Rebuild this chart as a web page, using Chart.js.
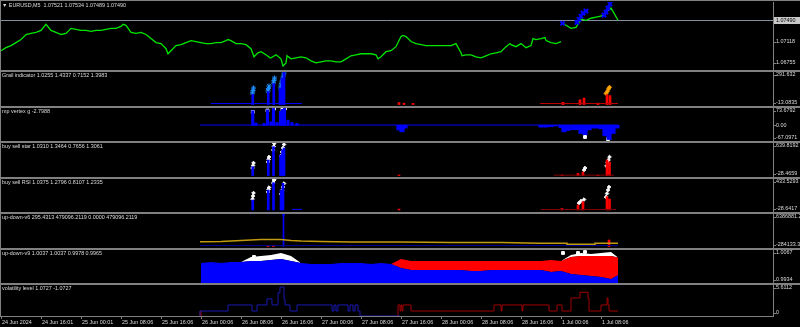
<!DOCTYPE html>
<html>
<head>
<meta charset="utf-8">
<title>EURUSD,M5</title>
<script src="https://cdn.jsdelivr.net/npm/chart.js@4.4.1/dist/chart.umd.min.js"></script>
<style>
  html, body { margin: 0; padding: 0; background: #000; }
  #chart { position: relative; width: 800px; height: 327px; overflow: hidden; background: #000; }
  #chart canvas { position: absolute; left: 0; }
  .sep { position: absolute; left: 0; width: 800px; height: 2px; background: #808080; }
</style>
</head>
<body>
<div id="chart">
  <canvas id="pMain" width="800" height="68" style="top:2px"></canvas>
  <canvas id="pGrail" width="800" height="34" style="top:72px"></canvas>
  <canvas id="pVertex" width="800" height="33" style="top:108px"></canvas>
  <canvas id="pStar" width="800" height="34" style="top:143px"></canvas>
  <canvas id="pRsi" width="800" height="33" style="top:179px"></canvas>
  <canvas id="pV6" width="800" height="34" style="top:214px"></canvas>
  <canvas id="pV9" width="800" height="33" style="top:250px"></canvas>
  <canvas id="pVol" width="800" height="42" style="top:285px"></canvas>
  <div class="sep" style="top:0;height:1px"></div>
  <div class="sep" style="top:70px"></div>
  <div class="sep" style="top:106px"></div>
  <div class="sep" style="top:141px"></div>
  <div class="sep" style="top:177px"></div>
  <div class="sep" style="top:212px"></div>
  <div class="sep" style="top:248px"></div>
  <div class="sep" style="top:283px"></div>
  <div style="position:absolute;left:0;top:0;width:1px;height:317px;background:#808080"></div>
</div>
<script>
// ---------- time axis (hours since 24 Jun 08:xx, weekend skipped) ----------
const timeTickHours = [0, 8, 16, 24, 32, 40, 48, 56, 64, 72, 80, 88, 96, 104, 112, 120];
const timeLabels = ['24 Jun 2024', '24 Jun 16:01', '25 Jun 00:01', '25 Jun 08:06', '25 Jun 16:06',
  '26 Jun 00:06', '26 Jun 08:06', '26 Jun 16:06', '27 Jun 00:06', '27 Jun 08:06', '27 Jun 16:06',
  '28 Jun 00:06', '28 Jun 08:06', '28 Jun 16:06', '1 Jul 00:06', '1 Jul 08:06'];

// ---------- EURUSD M5 close, one sample per hour (Mon 24 Jun .. Fri 28 Jun) ----------
const priceFri = [1.06965, 1.07018, 1.07053, 1.07105, 1.07158, 1.07245, 1.07263, 1.0728, 1.07315, 1.0742,
  1.07315, 1.0728, 1.07245, 1.07263, 1.0735, 1.07333, 1.07315, 1.07315, 1.07298, 1.07315,
  1.07315, 1.07333, 1.0735, 1.0735, 1.07385, 1.07403, 1.0728, 1.07263, 1.0728, 1.07245,
  1.07175, 1.07105, 1.07088, 1.07, 1.06965, 1.07053, 1.0707, 1.07105, 1.0714, 1.07123,
  1.07105, 1.07088, 1.07088, 1.07105, 1.07105, 1.0714, 1.0714, 1.07088, 1.07088, 1.0707,
  1.07, 1.06895, 1.06948, 1.06895, 1.06843, 1.06895, 1.06825, 1.06755, 1.06825, 1.06843,
  1.0686, 1.06843, 1.0679, 1.06755, 1.06773, 1.0679, 1.0679, 1.06773, 1.06773, 1.06825,
  1.06878, 1.06895, 1.06913, 1.06913, 1.06913, 1.06895, 1.0686, 1.06948, 1.06965, 1.07035,
  1.0721, 1.0721, 1.07123, 1.07088, 1.0707, 1.07053, 1.07053, 1.07053, 1.07053, 1.07053,
  1.07053, 1.07088, 1.0693, 1.06895, 1.06895, 1.0686, 1.06843, 1.06878, 1.06913, 1.0693,
  1.06948, 1.07035, 1.0707, 1.07035, 1.07088, 1.07018, 1.07053, 1.07158, 1.07175, 1.0714,
  1.07105, 1.07088, 1.07123];
// intra-hour swings that show in the line
const priceExtraHours = [24.4, 33.4, 45.4, 50.6, 51.4, 53.8, 56.4, 57.2, 75.4, 80.4, 92.2, 100.8, 101.8, 106.4, 108.8];
const priceExtra = [1.0742, 1.06913, 1.07158, 1.0686, 1.0693, 1.06843, 1.06703, 1.06878, 1.06825, 1.07228,
  1.06878, 1.07018, 1.07088, 1.07175, 1.07193];
// Monday 1 Jul, after the weekend gap
const priceMonHours = [112.4, 113, 114, 115, 116, 117, 118, 119, 120, 121, 122, 122.6, 123.4];
const priceMon = [1.07438, 1.07403, 1.0735, 1.07368, 1.07508, 1.0749, 1.07525, 1.07543, 1.0756, 1.0763, 1.077, 1.07613, 1.0749];
const signalHours = [112.3, 115.2, 115.6, 116.0, 116.4, 117.0, 120.6, 121.0, 121.4, 121.8];
const signalPrices = [1.07438, 1.07455, 1.07508, 1.0756, 1.07613, 1.07648, 1.07578, 1.0763, 1.077, 1.0777];

// ---------- Grail indicator ----------
const grailBaseHours = [42, 60.2];
const grailBaseValues = [9, 9];
const grailBuyHours = [50.35, 53.45, 54.55, 55.8, 56.2, 56.6];
const grailBuyValues = [90, 117, 188, 148, 237, 291];
const grailStarHours = [50.3, 50.4, 50.5, 53.4, 53.5, 53.6, 54.5, 54.6, 54.7, 55.9, 56.0, 56.15, 56.3, 56.45, 56.6];
const grailStarValues = [103, 125, 148, 121, 143, 166, 193, 215, 237, 148, 175, 202, 229, 255, 282];
const grailSellBaseHours = [107.8, 123.4];
const grailSellBaseValues = [9, 9];
const grailSellHours = [79.6, 80.6, 82.4, 112.4, 115.8, 116.6, 119.4, 121.2, 121.8];
const grailSellValues = [18, 12, 10, 20, 43, 58, 13, 88, 80];
const grailFlagHours = [121.0, 121.3, 121.5, 121.7];
const grailFlagValues = [100, 120, 140, 155];

// ---------- mp vertex g ----------
const vertexBaseHours = [39.8, 123.4];
const vertexBaseValues = [1, 1];
const vertexUpHours = [50.35, 51.0, 52.6, 53.3, 54.0, 54.5, 55.2, 55.9, 56.3, 56.7, 57.4, 58.2, 59.2];
const vertexUpValues = [62, 10, 8, 66, 15, 72, 12, 60, 68, 73, 22, 12, 8];
const vertexDownHours = [79.6, 80.2, 80.8, 108, 109, 110, 111, 112, 112.6, 113.4, 114.4, 115.2, 116.0, 116.8,
  117.6, 118.4, 119.2, 120.0, 120.8, 121.6, 122.4, 123.2];
const vertexDownValues = [-20, -28, -12, -8, -8, -6, -3, -10, -28, -22, -19, -19, -35, -40,
  -20, -12, -12, -15, -45, -61, -35, -12];
const vertexMarkHours = [50.35, 53.3, 54.6, 56.3, 56.8, 116.8, 121.4];
const vertexMarkValues = [57, 63, 71, 68, 72, -50, -59];

// ---------- buy sell star ----------
const starBuyHours = [50.35, 53.45, 54.5, 55.9, 56.3, 56.6];
const starBuyValues = [174, 306, 567, 404, 502, 541];
const starBuyMarkHours = [50.3, 50.4, 50.5, 53.4, 53.5, 53.6, 54.45, 54.55, 54.65, 56.0, 56.2, 56.4, 56.6];
const starBuyMarkValues = [148, 198, 247, 266, 315, 365, 502, 571, 630, 384, 463, 541, 610];
const starSellHours = [79.6, 112.2, 115.4, 116.4, 119.4, 121.2, 121.7];
const starSellValues = [12, 10, 44, 70, 8, 306, 266];
const starSellMarkHours = [116.6, 116.8, 121.1, 121.3, 121.5, 121.7];
const starSellMarkValues = [109, 148, 188, 247, 306, 365];
const starSellBaseHours = [110.5, 122.6];
const starSellBaseValues = [8, 8];

// ---------- buy sell RSI ----------
const rsiBuyHours = [50.35, 53.45, 54.5, 56.0, 56.4];
const rsiBuyValues = [139, 279, 382, 279, 373];
const rsiBuyMarkHours = [50.3, 50.4, 50.5, 53.4, 53.5, 53.6, 54.45, 54.55, 54.65, 56.0, 56.2, 56.4, 56.6];
const rsiBuyMarkValues = [153, 195, 237, 251, 286, 314, 377, 412, 425, 223, 272, 321, 370];
const rsiBuyBaseHours = [58.2, 60.2];
const rsiBuyBaseValues = [8, 8];
const rsiSellHours = [79.6, 112.2, 115.4, 116.4, 121.2, 121.7];
const rsiSellValues = [12, 20, 69, 116, 186, 153];
const rsiSellMarkHours = [115.6, 116.0, 116.6, 121.0, 121.2, 121.4, 121.6];
const rsiSellMarkValues = [97, 125, 146, 181, 230, 279, 321];
const rsiSellBaseHours = [108, 123];
const rsiSellBaseValues = [6, 6];

// ---------- up-down-v6 ----------
const v6Hours = [39.8, 44, 48, 52, 56, 58, 60, 64, 70, 80, 90, 100, 107.8, 113.2, 113.2, 118.8, 118.8, 123.4];
const v6Values = [952000, 991000, 1187000, 1384000, 1384000, 1187000, 1089000, 991000, 893000, 893000,
  795000, 795000, 638000, 638000, 442000, 442000, 638000, 638000];
const v6BaseHours = [39.8, 123.4];
const v6BaseValues = [200000, 200000];
const v6UpHours = [56.5];
const v6UpValues = [6386000];
const v6DownHours = [53.4, 54.5, 121.6];
const v6DownValues = [200000, 200000, 1285000];

// ---------- up-down-v9 (2-hour samples) ----------
const v9Hours = [40, 42, 44, 46, 48, 50, 52, 54, 56, 58, 60, 62, 64, 66, 68, 70, 72, 74, 76, 78,
  80, 82, 84, 86, 88, 90, 92, 94, 96, 98, 100, 102, 104, 106, 108, 110, 112, 114, 116, 118, 120, 122, 123.4];
const v9Blue = [1.00146, 1.00186, 1.00146, 1.00186, 1.00186, 1.00227, 1.00227, 1.00267, 1.00307, 1.00227,
  1.00146, 1.00106, 1.00106, 1.00106, 1.00146, 1.00146, 1.00146, 1.00106, 1.00146, 1.00106,
  0.99945, 0.99864, 0.99864, 0.99864, 0.99864, 0.99864, 0.99864, 0.99824, 0.99824, 0.99864,
  0.99864, 0.99864, 0.99864, 0.99864, 0.99864, 0.99784, 0.99824, 0.99703, 0.99663, 0.99622, 0.99582, 0.99501, 0.9965];
const v9Red = [1.00146, 1.00186, 1.00146, 1.00186, 1.00186, 1.00227, 1.00227, 1.00267, 1.00307, 1.00227,
  1.00146, 1.00106, 1.00106, 1.00106, 1.00146, 1.00146, 1.00146, 1.00106, 1.00146, 1.00106,
  1.00307, 1.00227, 1.00227, 1.00227, 1.00227, 1.00227, 1.00227, 1.00227, 1.00227, 1.00227,
  1.00227, 1.00227, 1.00227, 1.00227, 1.00227, 1.00267, 1.00227, 1.00388, 1.00428, 1.00428, 1.00428, 1.00428, 1.0037];
const v9White = [1.00146, 1.00186, 1.00146, 1.00186, 1.00186, 1.00388, 1.00428, 1.00469, 1.00549, 1.00428,
  1.00146, 1.00106, 1.00106, 1.00106, 1.00146, 1.00146, 1.00146, 1.00106, 1.00146, 1.00106,
  1.00307, 1.00227, 1.00227, 1.00227, 1.00227, 1.00227, 1.00227, 1.00227, 1.00227, 1.00227,
  1.00227, 1.00227, 1.00227, 1.00227, 1.00227, 1.00267, 1.00227, 1.00469, 1.00549, 1.00509, 1.00549, 1.00589, 1.0037];
const v9MarkHours = [50.6, 52.0, 112.4, 115.4, 116.8];
const v9MarkValues = [1.0039, 1.0033, 1.00549, 1.00549, 1.00589];

// ---------- volatility level ----------
const volBlueHours = [39.8, 45.4, 50.2, 51.2, 53.2, 54.2, 55.4, 55.8, 56.6, 56.8, 57.8, 59.2, 66.2, 66.6, 67.0, 67.4,
  69.4, 69.8, 70.4, 70.8, 71.4, 71.8, 73.6, 79.8];
const volBlueValues = [0, 0.9, 2.0, 0.9, 2.0, 3.1, 2.0, 4.2, 5.25, 3.1, 2.0, 0.9, 2.0, 0.9, 2.0, 0.9,
  2.0, 0.9, 2.0, 0.9, 2.0, 0.9, 0, 0];
const volRedHours = [39.8, 40.0, 40.2, 40.3, 79.4, 79.8, 80.0, 80.2, 80.4, 82.0, 98.6, 100.0, 100.2, 104.2, 104.4,
  109.6, 111.2, 112.2, 114.0, 115.8, 117.4, 117.6, 120.0, 121.2, 121.4, 121.6, 122.2, 123.4];
const volRedValues = [0, 0.9, 0, null, 0, 2.0, 0.9, 2.0, 0.9, 2.0, 0.9, 2.0, 0.9, 2.0, 0.9,
  2.0, 0.9, 2.0, 0.9, 3.26, 4.3, 3.26, 0.9, 2.0, 3.26, 2.0, 0.9, 0.9];

// ---------- style ----------
const TEXT = '#dcdcdc';
const GRID = '#808080';
const FAMILY = '"Liberation Sans", Arial, sans-serif';
const FONT_SIZE = 5.4;
const FONT_CSS = FONT_SIZE + 'px ' + FAMILY;
const X_MIN = -0.2, X_MAX = 154.4;

const pts = (hours, values) => values.map((v, i) => ({ x: hours[i], y: v }));
const bars = (data, color, width) => ({ type: 'bar', data, backgroundColor: color, barThickness: width, grouped: false, borderWidth: 0 });
const marks = (data, color, style, r, bw) => ({ type: 'scatter', data, pointStyle: style, pointRadius: r, borderColor: color, backgroundColor: color, borderWidth: bw || 1 });
const line = (data, color, w, extra) => Object.assign({ type: 'line', data, borderColor: color, borderWidth: w, pointRadius: 0, tension: 0, fill: false }, extra || {});

// pane caption and right-hand price labels, MetaTrader style
const paneText = {
  id: 'paneText',
  beforeDatasetsDraw(chart, args, o) {
    if (!o.bid) return;
    const { ctx, chartArea: a } = chart;
    const py = Math.round(chart.scales.y.getPixelForValue(parseFloat(o.bid))) + 0.5;
    ctx.save();
    ctx.strokeStyle = '#8090a0';
    ctx.lineWidth = 1;
    ctx.beginPath(); ctx.moveTo(a.left, py); ctx.lineTo(a.right, py); ctx.stroke();
    ctx.restore();
  },
  afterDraw(chart, args, o) {
    const { ctx, chartArea: a } = chart;
    const y = chart.scales.y;
    ctx.save();
    ctx.font = FONT_CSS;
    ctx.textBaseline = 'middle';
    ctx.textAlign = 'left';
    (o.levels || []).forEach(txt => {
      let py = y.getPixelForValue(parseFloat(txt));
      py = Math.min(Math.max(py, a.top + 3), a.bottom - 3);
      ctx.strokeStyle = GRID;
      ctx.lineWidth = 1;
      ctx.beginPath(); ctx.moveTo(a.right, Math.round(py) + 0.5); ctx.lineTo(a.right + 3, Math.round(py) + 0.5); ctx.stroke();
      if (txt === o.bid) {
        ctx.fillStyle = '#c8c8c8';
        ctx.fillRect(a.right + 1, Math.round(py) - 3, 26, 7);
        ctx.fillStyle = '#000';
      } else {
        ctx.fillStyle = TEXT;
      }
      ctx.fillText(txt, a.right + 3, py);
    });
    ctx.fillStyle = TEXT;
    ctx.fillText(o.title, a.left + 2, a.top + 3.5);
    ctx.restore();
  }
};

function makePane(id, datasets, yMin, yMax, text, showTime) {
  const x = { type: 'linear', min: X_MIN, max: X_MAX, offset: false, display: false };
  if (showTime) {
    Object.assign(x, {
      display: true,
      position: 'bottom',
      afterBuildTicks: s => { s.ticks = timeTickHours.map(v => ({ value: v })); },
      afterFit: s => { s.height = 11; },
      ticks: {
        autoSkip: false, maxRotation: 0, minRotation: 0, align: 'start', labelOffset: 1, padding: 0,
        color: TEXT, font: { family: FAMILY, size: FONT_SIZE },
        callback: (v, i) => timeLabels[i]
      },
      grid: { display: true, drawOnChartArea: false, drawTicks: true, tickLength: 3, color: GRID, offset: false },
      border: { display: true, color: GRID }
    });
  }
  return new Chart(document.getElementById(id), {
    type: 'line',
    data: { datasets },
    options: {
      responsive: false, animation: false, events: [],
      layout: { padding: 0, autoPadding: false },
      plugins: { legend: { display: false }, tooltip: { enabled: false }, paneText: text },
      scales: {
        x,
        y: {
          position: 'right', min: yMin, max: yMax,
          ticks: { display: false }, grid: { display: false },
          border: { display: true, color: GRID },
          afterFit: s => { s.width = 27; }
        }
      }
    },
    plugins: [paneText]
  });
}

// main price window
const pricePoints = priceFri.map((v, i) => ({ x: i, y: v }))
  .concat(pts(priceExtraHours, priceExtra))
  .sort((a, b) => a.x - b.x)
  .concat([{ x: 112.2, y: null }])
  .concat(pts(priceMonHours, priceMon));
makePane('pMain', [
  marks(pts(signalHours, signalPrices), '#0000ff', 'crossRot', 3, 2),
  line(pricePoints, '#00e600', 1.3)
], 1.06633, 1.07805, {
  title: '\u25BC EURUSD,M5  1.07521 1.07534 1.07489 1.07490',
  levels: ['1.07490', '1.07118', '1.06755'], bid: '1.07490'
});

makePane('pGrail', [
  line(pts(grailBaseHours, grailBaseValues), '#0000ff', 1),
  line(pts(grailSellBaseHours, grailSellBaseValues), '#c00000', 1),
  bars(pts(grailBuyHours, grailBuyValues), '#0000ff', 2),
  bars(pts(grailSellHours, grailSellValues), '#ff0000', 2),
  marks(pts(grailStarHours, grailStarValues), '#1e90ff', 'star', 2.5),
  marks(pts(grailFlagHours, grailFlagValues), '#ffa500', 'rectRot', 2)
], -13.0835, 291.632, {
  title: 'Grail indicator 1.0255 1.4337 0.7152 1.3983',
  levels: ['291.632', '-13.0835']
});

makePane('pVertex', [
  line(pts(vertexBaseHours, vertexBaseValues), '#0000ff', 1),
  bars(pts(vertexUpHours, vertexUpValues), '#0000ff', 2.5),
  bars(pts(vertexDownHours, vertexDownValues), '#0000ff', 4.5),
  marks(pts(vertexMarkHours, vertexMarkValues), '#ffffff', 'rect', 2)
], -67.0971, 73.6792, {
  title: 'mp vertex g -2.7988',
  levels: ['73.6792', '0.00', '-67.0971']
});

makePane('pStar', [
  line(pts(starSellBaseHours, starSellBaseValues), '#800000', 1),
  bars(pts(starBuyHours, starBuyValues), '#0000ff', 2),
  bars(pts(starSellHours, starSellValues), '#ff0000', 2),
  marks(pts(starBuyMarkHours, starBuyMarkValues), '#ffffff', 'rectRot', 1.8),
  marks(pts(starSellMarkHours, starSellMarkValues), '#ffffff', 'rectRot', 1.8)
], -28.4659, 639.8192, {
  title: 'buy sell star 1.0310 1.3464 0.7656 1.3061',
  levels: ['639.8192', '-28.4659']
});

makePane('pRsi', [
  line(pts(rsiSellBaseHours, rsiSellBaseValues), '#800000', 1),
  line(pts(rsiBuyBaseHours, rsiBuyBaseValues), '#0000ff', 1),
  bars(pts(rsiBuyHours, rsiBuyValues), '#0000ff', 2),
  bars(pts(rsiSellHours, rsiSellValues), '#ff0000', 2),
  marks(pts(rsiBuyMarkHours, rsiBuyMarkValues), '#ffffff', 'rectRot', 1.8),
  marks(pts(rsiSellMarkHours, rsiSellMarkValues), '#ffffff', 'rectRot', 1.8)
], -28.6417, 433.5293, {
  title: 'buy sell RSI 1.0375 1.2796 0.8107 1.2335',
  levels: ['433.5293', '-28.6417']
});

makePane('pV6', [
  line(pts(v6BaseHours, v6BaseValues), '#000090', 1),
  line(pts(v6Hours, v6Values), '#c09a10', 1.5),
  bars(pts(v6UpHours, v6UpValues), '#0000ff', 1),
  bars(pts(v6DownHours, v6DownValues), '#ff0000', 2),
  marks(pts(v6UpHours, v6UpValues), '#0000ff', 'crossRot', 2)
], -284133.39, 6386881.2, {
  title: 'up-down-v6 295.4313 479096.2119 0.0000 479096.2119',
  levels: ['6386881.2', '-284133.39']
});

makePane('pV9', [
  line(pts(v9Hours, v9Blue), '#0000ff', 0, { fill: 'start', backgroundColor: '#0000ff' }),
  line(pts(v9Hours, v9Red), '#ff0000', 0, { fill: '-1', backgroundColor: '#ff0000' }),
  line(pts(v9Hours, v9White), '#ffffff', 0, { fill: '-1', backgroundColor: '#ffffff' }),
  marks(pts(v9MarkHours, v9MarkValues), '#ffffff', 'rect', 2)
], 0.9934, 1.0067, {
  title: 'up-down-v9 1.0037 1.0037 0.9978 0.9965',
  levels: ['1.0067', '0.9934']
});

makePane('pVol', [
  line(pts(volBlueHours, volBlueValues), '#1818b0', 1, { stepped: 'after' }),
  line(pts(volRedHours, volRedValues), '#a00000', 1, { stepped: 'after' })
], 0, 5.6112, {
  title: 'volatility level 1.0727 -1.0727',
  levels: ['5.6112', '0']
}, true);
</script>
</body>
</html>
